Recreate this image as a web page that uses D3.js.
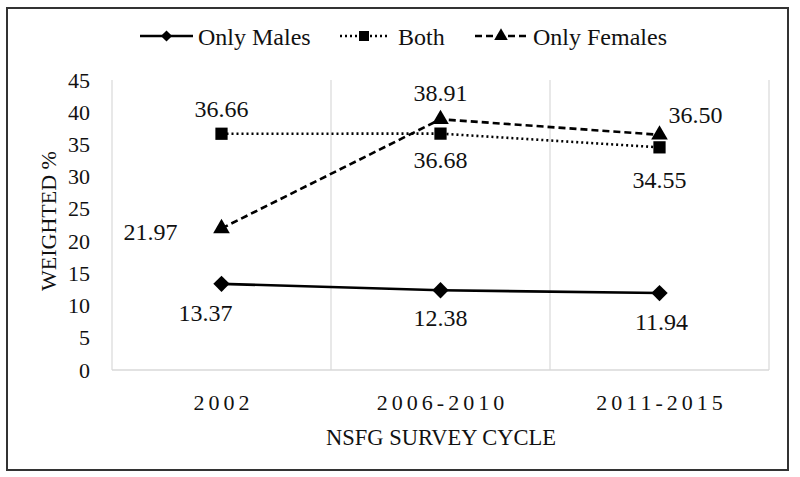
<!DOCTYPE html>
<html>
<head>
<meta charset="utf-8">
<script src="https://cdn.jsdelivr.net/npm/d3@7"></script>
</head>
<body style="margin:0;background:#fff">
<svg width="800" height="477"></svg>
<script>
const cycles = ["2002", "2006-2010", "2011-2015"];
const onlyMales = [13.37, 12.38, 11.94];
const both = [36.66, 36.68, 34.55];
const onlyFemales = [21.97, 38.91, 36.50];
const yTicks = [0, 5, 10, 15, 20, 25, 30, 35, 40, 45];

const FONT = '"Liberation Serif"';

const series = [
  {name: "Only Males", values: onlyMales, dash: null, symbol: d3.symbolDiamond2, size: 170, lsize: 80},
  {name: "Both", values: both, dash: "2,3", symbol: d3.symbolSquare, size: 150, lsize: 100},
  {name: "Only Females", values: onlyFemales, dash: "7,4", symbol: d3.symbolTriangle, size: 120, lsize: 80}
];

// label offsets (dx, dy to baseline) per series / point
const labelPos = {
  "Only Males": [[-16, 37], [0, 36], [2, 37]],
  "Both": [[0, -17], [0, 34], [0, 41]],
  "Only Females": [[-71, 12], [0, -18], [36, -12]]
};

const svg = d3.select("svg");
const margin = {top: 80, left: 112, right: 769, bottom: 370};

svg.append("rect")
    .attr("x", 7).attr("y", 8)
    .attr("width", 781).attr("height", 462)
    .attr("fill", "none")
    .attr("stroke", "#333")
    .attr("stroke-width", 2);

const x = d3.scaleBand()
    .domain(cycles)
    .range([margin.left, margin.right]);

const y = d3.scaleLinear()
    .domain([0, 45])
    .range([margin.bottom, margin.top]);

// vertical grid lines at category boundaries
const bounds = cycles.map(c => x(c)).concat([x.range()[1]]);
svg.append("g")
  .selectAll("line")
  .data(bounds)
  .join("line")
    .attr("x1", d => d).attr("x2", d => d)
    .attr("y1", margin.top).attr("y2", margin.bottom)
    .attr("stroke", "#d9d9d9")
    .attr("stroke-width", 1.2);

svg.append("line")
    .attr("x1", margin.left).attr("x2", margin.right)
    .attr("y1", margin.bottom).attr("y2", margin.bottom)
    .attr("stroke", "#d9d9d9")
    .attr("stroke-width", 1.5);

// y axis
const yAxis = svg.append("g")
    .attr("transform", `translate(${margin.left},0)`)
    .call(d3.axisLeft(y).tickValues(yTicks).tickSize(0).tickPadding(22));
yAxis.select(".domain").remove();
yAxis.attr("font-family", null).attr("font-size", null);
yAxis.selectAll("text")
    .style("font-family", FONT)
    .style("font-size", "22px")
    .attr("fill", "#111");

// x axis labels
svg.append("g")
  .selectAll("text")
  .data(cycles)
  .join("text")
    .attr("x", d => x(d) + x.bandwidth() / 2 + 2)
    .attr("y", 410)
    .attr("text-anchor", "middle")
    .style("font-family", FONT)
    .style("font-size", "22px")
    .style("letter-spacing", "4px")
    .attr("fill", "#111")
    .text(d => d);

svg.append("text")
    .attr("x", 441).attr("y", 445)
    .attr("text-anchor", "middle")
    .style("font-family", FONT)
    .style("font-size", "22.5px")
    .attr("fill", "#111")
    .text("NSFG SURVEY CYCLE");

svg.append("text")
    .attr("transform", "translate(56,221) rotate(-90)")
    .attr("text-anchor", "middle")
    .style("font-family", FONT)
    .style("font-size", "22px")
    .attr("fill", "#111")
    .text("WEIGHTED %");

const cx = i => x(cycles[i]) + x.bandwidth() / 2;

const line = d3.line()
    .x((d, i) => cx(i))
    .y(d => y(d));

series.forEach(s => {
  svg.append("path")
      .datum(s.values)
      .attr("fill", "none")
      .attr("stroke", "#000")
      .attr("stroke-width", 2.6)
      .attr("stroke-dasharray", s.dash)
      .attr("d", line);

  svg.append("g")
    .selectAll("path")
    .data(s.values)
    .join("path")
      .attr("transform", (d, i) => `translate(${cx(i)},${y(d)})`)
      .attr("d", d3.symbol().type(s.symbol).size(s.size))
      .attr("fill", "#000");

  svg.append("g")
    .selectAll("text")
    .data(s.values)
    .join("text")
      .attr("x", (d, i) => cx(i) + labelPos[s.name][i][0])
      .attr("y", (d, i) => y(d) + labelPos[s.name][i][1])
      .attr("text-anchor", "middle")
      .style("font-family", FONT)
      .style("font-size", "24px")
      .attr("fill", "#111")
      .text(d => d.toFixed(2));
});

// legend
const legendItems = [
  {s: series[0], x0: 140, x1: 193, tx: 198},
  {s: series[1], x0: 340, x1: 388, tx: 398},
  {s: series[2], x0: 475, x1: 527, tx: 533}
];
const ly = 36;
const legend = svg.append("g")
  .selectAll("g")
  .data(legendItems)
  .join("g");

legend.append("line")
    .attr("x1", d => d.x0).attr("x2", d => d.x1)
    .attr("y1", ly).attr("y2", ly)
    .attr("stroke", "#000")
    .attr("stroke-width", 2.6)
    .attr("stroke-dasharray", d => d.s.dash);

legend.append("path")
    .attr("transform", d => `translate(${(d.x0 + d.x1) / 2},${ly})`)
    .attr("d", d => d3.symbol().type(d.s.symbol).size(d.s.lsize)())
    .attr("fill", "#000");

legend.append("text")
    .attr("x", d => d.tx)
    .attr("y", ly + 9)
    .style("font-family", FONT)
    .style("font-size", "24px")
    .attr("fill", "#111")
    .text(d => d.s.name);
</script>
</body>
</html>
